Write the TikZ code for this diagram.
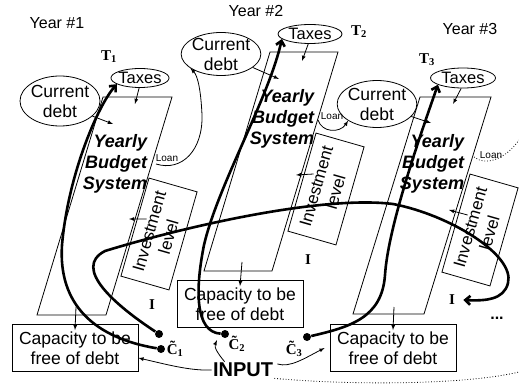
\documentclass[tikz,border=0pt]{standalone}
\usepackage{fontspec}
\setmainfont{Liberation Sans}
\newfontfamily\timesfont{Liberation Serif}
\usetikzlibrary{shapes, arrows.meta, positioning}
\tikzstyle{every node}=[font=\fontsize{16}{19}\selectfont]
\tikzstyle{cloud}=[draw, ellipse, align=center, inner sep=-1pt,
  font=\fontsize{17.5}{20}\selectfont]
\tikzstyle{block}=[draw, rectangle, align=center, inner sep=0pt,
  minimum width=126pt, minimum height=47pt, font=\fontsize{17.5}{20}\selectfont]
\tikzstyle{invest}=[draw, rectangle, rotate=74, align=center, inner sep=0pt,
  minimum width=102pt, minimum height=50pt, font=\fontsize{17}{20}\selectfont]
\tikzstyle{budget}=[font=\fontsize{18}{21}\selectfont\bfseries\itshape,
  align=right, inner sep=0pt]
\tikzstyle{loan}=[font=\fontsize{10}{10}\selectfont, inner sep=0pt]
\tikzstyle{lab}=[font=\fontsize{15}{15}\selectfont\timesfont\bfseries, inner sep=1pt]
\tikzstyle{dot}=[circle, fill, inner sep=0pt, minimum size=8pt]
\tikzstyle{flow}=[line width=2.6pt, -{Straight Barb[length=5pt,width=9pt]}]

\begin{document}
\begin{tikzpicture}[x=1pt,y=-1pt,>=latex,line width=0.8pt]
  \useasboundingbox (0,0) rectangle (519,387);

  % year 1
  \node (year1) at (57,23) {Year \#1};
  \node[cloud, font=\fontsize{16.5}{19}\selectfont, minimum width=55pt, minimum height=19pt] (tax1) at (140,78) {Taxes};
  \node[lab] (t1) at (109,57) {T\textsubscript{1}};
  \node[cloud, minimum width=80pt, minimum height=50pt] (debt1) at (60,101) {Current\\debt};
  \draw (103,97) -- ++(69,0) -- ++(-66,218) -- ++(-69,0) -- cycle;
  \node[budget] (ybs1) at (115,164) {Yearly\\Budget\\System};
  \node[loan] (loan1) at (167,158) {Loan};
  \node[invest] (inv1) at (159,234) {Investment\\level};
  \node[lab] (i1) at (152,305) {I};
  \node[block] (cap1) at (75,348) {Capacity to be\\free of debt};
  \node[dot] (c1a) at (159,334) {};
  \node[dot] (c1b) at (161,349) {};
  \node[lab, right=0pt of c1b] (lc1) {\~{C}\textsubscript{1}};
  \coordinate (in1t) at (135,104);
  \coordinate (in1d) at (113,124);
  \coordinate (in1i) at (129,219);
  \coordinate (out1) at (76,307);
  \coordinate (loan1s) at (156,164);
  \draw[->] (tax1.-95) -- (in1t);
  \draw[->] (debt1.-25) -- (in1d);
  \draw[->] ([xshift=12pt,yshift=8pt]inv1.north) -- (in1i);
  \draw[->] (out1) -- ([yshift=-6pt]cap1.north);

  % year 2
  \node (year2) at (256,11) {Year \#2};
  \node[cloud, font=\fontsize{16.5}{19}\selectfont, minimum width=64pt, minimum height=19pt] (tax2) at (310,34) {Taxes};
  \node[lab] (t2) at (359,32) {T\textsubscript{2}};
  \node[cloud, minimum width=72pt, minimum height=43pt] (debt2) at (221,54) {Current\\debt};
  \draw (270,52) -- ++(68,0) -- ++(-66,219) -- ++(-68,0) -- cycle;
  \node[budget] (ybs2) at (282,119) {Yearly\\Budget\\System};
  \node[loan] (loan2) at (332,116) {Loan};
  \node[invest] (inv2) at (326,189) {Investment\\level};
  \node[lab] (i2) at (308,260) {I};
  \node[block] (cap2) at (240,304) {Capacity to be\\free of debt};
  \node[dot] (c2) at (225,334) {};
  \node[lab, below right=-2pt and -1pt of c2] (lc2) {\~{C}\textsubscript{2}};
  \coordinate (in2t) at (302,61);
  \coordinate (in2d) at (279,79);
  \coordinate (in2i) at (296,175);
  \coordinate (out2) at (242,262);
  \coordinate (loan2s) at (318,120);
  \draw[->] (tax2.-100) -- (in2t);
  \draw[->] (debt2.-23) -- (in2d);
  \draw[->] ([xshift=12pt,yshift=8pt]inv2.north) -- (in2i);
  \draw[->] (out2) -- ([yshift=-6pt]cap2.north);

  % year 3
  \node (year3) at (470,29) {Year \#3};
  \node[cloud, font=\fontsize{16.5}{19}\selectfont, minimum width=65pt, minimum height=20pt] (tax3) at (463,78) {Taxes};
  \node[lab] (t3) at (427,60) {T\textsubscript{3}};
  \node[cloud, minimum width=77pt, minimum height=47pt] (debt3) at (377,104) {Current\\debt};
  \draw (420,97) -- ++(71,0) -- ++(-67,217) -- ++(-71,0) -- cycle;
  \node[budget] (ybs3) at (432,164) {Yearly\\Budget\\System};
  \node[loan] (loan3) at (491,155) {Loan};
  \node[invest] (inv3) at (480,230) {Investment\\level};
  \node[lab] (i3) at (452,300) {I};
  \node[block] (cap3) at (393,348) {Capacity to be\\free of debt};
  \node[dot] (c3) at (307,337) {};
  \node[lab, below left=0pt of c3] (lc3) {\~{C}\textsubscript{3}};
  \node[font=\fontsize{16}{16}\selectfont\bfseries] (more) at (497,318) {...};
  \coordinate (in3t) at (453,104);
  \coordinate (in3d) at (431,123);
  \coordinate (in3i) at (449,210);
  \coordinate (out3) at (394,307);
  \coordinate (loan3s) at (474,157);
  \coordinate (loan3e) at (519,140);
  \draw[->] (tax3.-100) -- (in3t);
  \draw[->] (debt3.-20) -- (in3d);
  \draw[->] ([xshift=12pt,yshift=8pt]inv3.north) -- (in3i);
  \draw[->] (out3) -- ([yshift=-6pt]cap3.north);

  % loans
  \draw[->] (loan1s) .. controls (182,172) and (203,150) .. (202,115)
    .. controls (201,92) and (198,76) .. (debt2.205);
  \draw[->] (loan2s) .. controls (322,133) and (340,133) .. (debt3.210);
  \draw[dotted] (loan3s) .. controls (485,166) and (505,160) .. (loan3e);

  % input
  \node[font=\fontsize{20}{20}\selectfont\bfseries, inner sep=1pt] (input) at (243,370) {INPUT};
  \coordinate (inc2) at (217,340);
  \coordinate (edge) at (519,372);
  \draw[->] (input.west) .. controls (190,371) and (165,364) .. ([yshift=-10pt]cap1.east);
  \draw[->] ([xshift=13pt]input.north west) .. controls (218,354) and (214,347) .. (inc2);
  \draw[->] ([xshift=3pt,yshift=6pt]input.east) .. controls (290,368) and (305,358)
    .. ([xshift=-5pt]cap3.west);
  \draw[dotted] (input.south east) .. controls (360,386) and (470,384) .. (edge);

  % thick flows
  \draw[flow] (c1b) .. controls (95,338) and (58,305) .. (62,245)
    .. controls (68,175) and (98,105) .. (tax1.195);
  \draw[flow] (c1a) .. controls (115,305) and (72,268) .. (105,251)
    .. controls (180,228) and (320,195) .. (393,204)
    .. controls (450,215) and (515,255) .. (508,283)
    .. controls (504,300) and (485,301) .. ([xshift=7pt]i3.east);
  \draw[flow] (c2) .. controls (195,332) and (195,290) .. (204,245)
    .. controls (218,185) and (268,100) .. (tax2.190);
  \draw[flow] (c3) .. controls (350,327) and (382,318) .. (385,275)
    .. controls (388,230) and (415,150) .. (tax3.195);
\end{tikzpicture}
\end{document}
